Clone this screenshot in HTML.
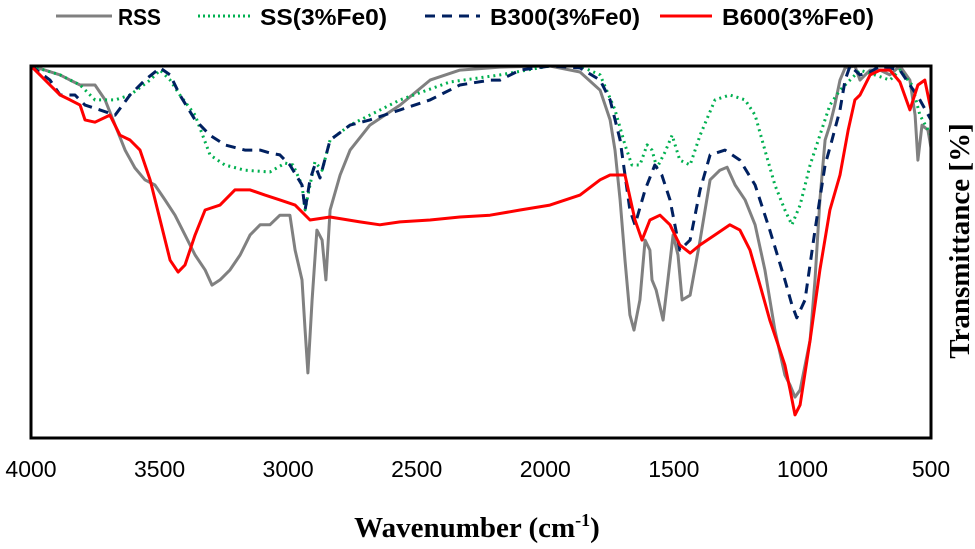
<!DOCTYPE html>
<html><head><meta charset="utf-8"><style>
html,body{margin:0;padding:0;background:#fff;}
svg{display:block;}
.tick{font-family:"Liberation Sans",sans-serif;font-size:23px;fill:#000;}
.leg{font-family:"Liberation Sans",sans-serif;font-size:23px;font-weight:bold;fill:#000;}
.ttl{font-family:"Liberation Serif",serif;font-size:29px;font-weight:bold;fill:#000;}
</style></head><body>
<svg id="chart" width="975" height="549" viewBox="0 0 975 549">
<g id="legend">
<g><line x1="56" y1="16" x2="112" y2="16" stroke="#808080" stroke-width="3"/><text class="leg" x="118" y="25" textLength="43" lengthAdjust="spacingAndGlyphs">RSS</text></g>
<g><line x1="198" y1="16" x2="250" y2="16" stroke="#00b050" stroke-width="3" stroke-dasharray="2,3"/><text class="leg" x="260" y="25" textLength="127" lengthAdjust="spacingAndGlyphs">SS(3%Fe0)</text></g>
<g><line x1="425" y1="16" x2="480" y2="16" stroke="#002060" stroke-width="3" stroke-dasharray="10,7"/><text class="leg" x="490" y="25" textLength="150" lengthAdjust="spacingAndGlyphs">B300(3%Fe0)</text></g>
<g><line x1="660" y1="16" x2="712" y2="16" stroke="#ff0000" stroke-width="3"/><text class="leg" x="722" y="25" textLength="152" lengthAdjust="spacingAndGlyphs">B600(3%Fe0)</text></g>
</g>
<g id="series"></g>
<rect x="31" y="66" width="900" height="372" fill="none" stroke="#000" stroke-width="3"/>
<g id="xticks"></g>
<text class="ttl" x="477" y="537" text-anchor="middle">Wavenumber (cm<tspan dy="-11" font-size="18">-1</tspan><tspan dy="11">)</tspan></text>
<text class="ttl" transform="translate(969,241) rotate(-90)" text-anchor="middle">Transmittance [%]</text>
</svg>
<script>
const xTicks=[4000,3500,3000,2500,2000,1500,1000,500];
const rssW=[4000,3946,3887,3848,3809,3751,3712,3673,3634,3596,3557,3518,3479,3440,3401,3362,3323,3296,3265,3226,3187,3148,3109,3071,3032,2993,2973,2946,2934,2923,2907,2888,2868,2853,2837,2798,2759,2682,2565,2448,2332,2176,1982,1865,1787,1748,1729,1709,1690,1671,1655,1632,1612,1593,1585,1569,1542,1523,1503,1484,1468,1437,1398,1359,1321,1293,1262,1223,1184,1146,1107,1068,1048,1029,1009,970,951,932,912,893,874,854,834,796,776,737,698,660,621,582,562,551,535,512,500];
const rssT=[100,98.9,97.6,96.2,94.9,94.9,90.9,84.1,77.4,72.6,69.4,68,64,59.9,54.6,49.2,45.2,41.1,42.5,45.2,49.2,54.6,57.3,57.3,59.9,59.9,50.5,42.5,29,17.5,37.1,55.9,53.2,42.5,61.3,70.7,77.4,84.1,89.5,96.2,98.9,99.7,100,98.4,93.5,85.5,77.4,64,47.8,33.1,29,37.1,53.2,50.5,42.5,39.8,31.7,42.5,54.6,49.2,37.1,38.4,53.2,69.4,72,72.8,68,64,57.3,45.2,29,16.9,14.2,11,12.9,26.3,42.5,64,80.1,84.1,89.5,96.2,99.5,100,96.2,98.9,98.9,97.6,100,96.2,86.8,74.7,84.1,82.8,78];
const ssW=[4000,3887,3809,3751,3673,3615,3537,3498,3459,3421,3362,3304,3246,3168,3071,3012,2981,2946,2934,2915,2896,2868,2837,2759,2565,2371,2176,1982,1865,1787,1729,1690,1663,1632,1604,1585,1566,1534,1507,1477,1437,1398,1340,1282,1223,1184,1146,1107,1068,1041,1009,970,932,893,854,815,776,718,660,621,574,543,500];
const ssT=[100,97.6,94.9,90.9,90.9,92.2,96.2,98.9,96.2,92.2,86.8,76.1,73.4,72,71.5,73.9,73.4,68,61.3,68,74.2,72,80.1,84.1,90.9,95.7,97.6,100,100,97.6,88.2,78.8,73.4,73.4,78.8,77.4,72.6,76.9,81.4,74.7,73.4,81.4,90.9,92.2,90.9,86.8,77.4,68,61.3,57.3,62.6,73.4,81.4,89.5,93.5,96.2,98.9,97.6,96.2,98.9,94.9,86.8,81.4];
const b300W=[4000,3926,3887,3829,3790,3732,3673,3615,3557,3498,3459,3421,3362,3304,3246,3168,3109,3071,3032,2993,2946,2934,2915,2896,2876,2837,2759,2682,2565,2448,2332,2215,2176,2098,1982,1865,1787,1748,1709,1690,1671,1651,1612,1574,1547,1515,1477,1437,1398,1359,1301,1243,1184,1127,1068,1041,1022,990,951,912,885,854,834,815,776,737,698,621,582,543,500];
const b300T=[100,96.2,92.2,92.2,89.5,88.2,86.8,92.2,96.2,99.5,97.6,92.2,85.5,81.4,78.8,77.4,77.4,76.6,76.1,73.4,68,61.3,69.4,73.4,69.9,80.1,84.1,85.5,88.2,90.9,94.9,96.2,96.2,98.9,100,99.5,96.2,90.9,80.1,70.7,61.3,57.3,66.7,73.4,70.7,64,50.5,53.2,66.7,76.1,77.4,74.7,68,55.9,42.5,35.8,32.3,37.1,55.9,73.4,80.1,88.2,96.2,100,97.6,98.4,100,98.9,94.9,90.9,85.5];
const b600W=[4000,3965,3926,3887,3848,3809,3790,3751,3693,3654,3615,3576,3537,3498,3459,3428,3401,3362,3323,3265,3207,3148,3090,3032,2973,2915,2837,2721,2643,2565,2448,2332,2215,2098,1982,1865,1787,1748,1690,1651,1624,1593,1554,1515,1477,1437,1398,1340,1282,1243,1204,1165,1127,1088,1068,1048,1029,1009,970,932,893,854,822,796,776,737,698,660,621,582,551,524,500];
const b600T=[100,97.6,94.9,92.2,90.9,89.5,85.5,84.9,86.8,81.4,80.1,77.4,69.4,58.6,47.8,44.6,46.5,54.6,61.3,62.6,66.7,66.7,65.3,64,62.6,58.6,59.4,58.1,57.3,58.1,58.6,59.4,59.9,61.3,62.6,65.3,69.4,70.7,70.7,58.6,53.2,58.6,59.9,57.3,51.9,49.7,51.9,54.6,57.3,55.9,50.5,41.1,31.7,23.7,19.6,12.9,6.2,8.9,26.3,45.2,61.3,70.7,82.8,90.9,92.2,97.6,98.9,98.9,95.7,88.2,94.9,96.2,88.2];

const X0=31,X1=931,Y0=66,Y1=438;
function xs(w){return X0+(4000-w)/3500*(X1-X0);}
function ys(t){return Y1-t/100*(Y1-Y0);}
const NS='http://www.w3.org/2000/svg';
const g=document.getElementById('series');
function addSeries(W,T,color,dash,name){
  const p=document.createElementNS(NS,'path');
  let d='';
  for(let i=0;i<W.length;i++){d+=(i?'L':'M')+xs(W[i]).toFixed(1)+','+ys(T[i]).toFixed(1);}
  p.setAttribute('d',d);
  p.setAttribute('fill','none');
  p.setAttribute('stroke',color);
  p.setAttribute('stroke-width','3');
  p.setAttribute('stroke-linejoin','round');
  if(dash)p.setAttribute('stroke-dasharray',dash);
  
  
  g.appendChild(p);
}
addSeries(rssW,rssT,'#808080',null,'series-rss');
addSeries(ssW,ssT,'#00b050','2,4','series-ss');
addSeries(b300W,b300T,'#002060','10,7','series-b300');
addSeries(b600W,b600T,'#ff0000',null,'series-b600');
const xt=document.getElementById('xticks');
xTicks.forEach(v=>{
  const t=document.createElementNS(NS,'text');
  t.setAttribute('class','tick');
  t.setAttribute('x',xs(v));
  t.setAttribute('y',477);
  t.setAttribute('text-anchor','middle');
  t.textContent=v;
  
  
  xt.appendChild(t);
});
</script>
</body></html>
